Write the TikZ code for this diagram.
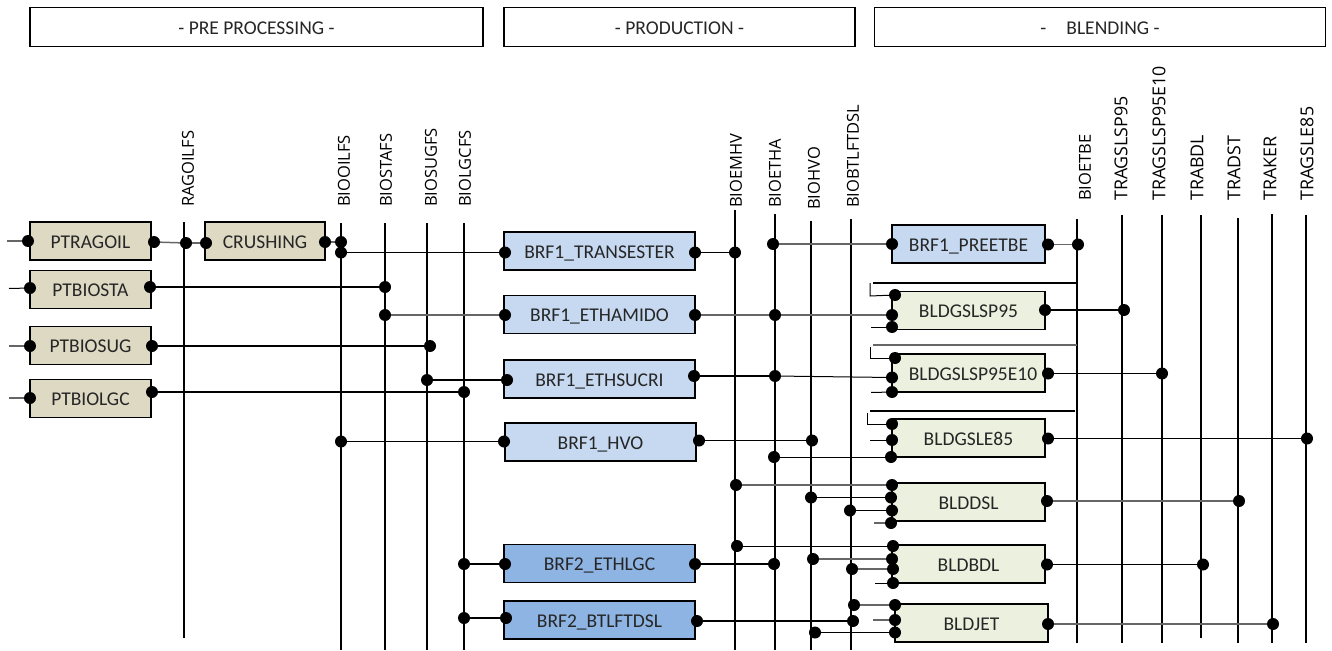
\documentclass[tikz,border=0pt]{standalone}
\usepackage{fontspec}
\setmainfont{Carlito}
\newfontfamily\labelfont{Open Sans}
\definecolor{txt}{HTML}{262626}
\definecolor{beige}{HTML}{DDD9C3}
\definecolor{lblue}{HTML}{C6D9F1}
\definecolor{dblue}{HTML}{8EB4E3}
\definecolor{lgreen}{HTML}{EBF1DE}
\tikzset{
  hdr/.style={draw=black,line width=1.6pt,fill=white,minimum height=39pt,inner sep=0pt,text=txt,text height=14.5pt,text depth=0pt,font=\fontsize{19.5}{22}\selectfont},
  box/.style={draw=black,line width=1.6pt,inner sep=0pt,text=txt,text height=14.5pt,text depth=0pt,font=\fontsize{19.5}{22}\selectfont,minimum height=38pt},
  pre/.style={box,fill=beige,minimum width=121pt},
  prod/.style={box,fill=lblue,minimum width=191pt},
  prodb/.style={box,fill=dblue,minimum width=191pt},
  blend/.style={box,fill=lgreen,minimum width=153pt},
  port/.style={circle,fill=black,inner sep=0pt,minimum size=12pt},
  bus/.style={line width=1.6pt,black},
  conn/.style={line width=1pt,black},
  connk/.style={line width=2pt,black},
  conng/.style={line width=1.5pt,black!60},
  buslabel/.style={rotate=90,anchor=west,inner sep=0pt,text=black}
}
\begin{document}
\begin{tikzpicture}[x=1pt,y=-1pt]
\useasboundingbox (0,0) rectangle (1332,650);
% headers
\node[hdr,minimum width=453pt] (hpre) at (256.5,27) {- PRE PROCESSING -};
\node[hdr,minimum width=351pt] (hprod) at (679.5,27) {- PRODUCTION -};
\node[hdr,minimum width=451pt] (hbl) at (1100,27) {-\hspace{20pt}BLENDING -};
% buses
\foreach \n/\x/\t/\b in {rag/184/222/638,oil/341/223/650,sta/385/223/650,sug/427/223/650,lgc/464/223/650,
  emhv/735/210/650,etha/775/214/650,hvo/811/221/650,btl/851/219/650,
  etbe/1077/219/643,s95/1122/215/643,e10/1162/215/643,bdl/1201/215/638,dst/1238/218/643,ker/1272/214/643,e85/1306/215/643}{
  \coordinate (\n t) at (\x,\t);
  \coordinate (\n b) at (\x,\b);
  \draw[bus] (\n t) -- (\n b);
}
% bus labels
\foreach \n/\x/\b/\f/\s in {lrag/188/207/16.5/RAGOILFS,loil/344/207/16.5/BIOOILFS,lsta/386/207/16.5/BIOSTAFS,lsug/431/207/16.5/BIOSUGFS,llgc/465/207/16.5/BIOLGCFS,
  lemhv/736/208/16.5/BIOEMHV,letha/775/208/16.5/BIOETHA,lhvo/814/210/16.5/BIOHVO,lbtl/853/208/16.5/BIOBTLFTDSL,
  letbe/1085/201/16.5/BIOETBE,ls95/1121/201/17.8/TRAGSLSP95,le10/1159/201/17.8/TRAGSLSP95E10,lbdl/1197/201/17.8/TRABDL,ldst/1234/201/17.8/TRADST,lker/1270/201/17.8/TRAKER,le85/1307/201/17.8/TRAGSLE85}{
  \node[buslabel,font=\labelfont\fontsize{\f}{20}\selectfont] (\n) at (\x,\b) {\s};
}
% preprocessing boxes
\node[pre] (ptragoil) at (90.5,241) {PTRAGOIL};
\node[pre] (ptbiosta) at (90.5,289.5) {PTBIOSTA};
\node[pre] (ptbiosug) at (90.5,345.5) {PTBIOSUG};
\node[pre] (ptbiolgc) at (90.5,398.5) {PTBIOLGC};
\node[pre,minimum width=120pt] (crushing) at (265,241) {CRUSHING};
% production boxes
\node[prod] (transester) at (599.5,251) {BRF1\_TRANSESTER};
\node[prod] (ethamido) at (599.5,314.5) {BRF1\_ETHAMIDO};
\node[prod] (ethsucri) at (599.5,379) {BRF1\_ETHSUCRI};
\node[prod] (hvobox) at (600.5,442) {BRF1\_HVO};
\node[prodb] (ethlgc) at (599.5,563.5) {BRF2\_ETHLGC};
\node[prodb] (btlftdsl) at (599.5,620) {BRF2\_BTLFTDSL};
% blending boxes
\node[blend,fill=lblue] (preetbe) at (968.5,244) {BRF1\_PREETBE};
\node[blend] (gs95) at (968.5,310.5) {BLDGSLSP95};
\node[blend] (gs10) at (968.5,373) {\hspace{9pt}BLDGSLSP95E10};
\node[blend] (gs85) at (968.5,438) {BLDGSLE85};
\node[blend] (bldsl) at (968.5,502) {BLDDSL};
\node[blend] (blbdl) at (968.5,564) {BLDBDL};
\node[blend] (bljet) at (971.5,623) {BLDJET};
% ports
\foreach \n/\x/\y in {
  a1/28/241,a2/154/242,a3/186/243,a4/206/243,a5/325/242,a6/341/242,a7/341/252.5,
  b1/30/288,b2/150/287,b3/385/287,
  c1/30/346,c2/152/346,c3/430/346,
  d1/30/398,d2/152/392,d3/464/392,
  e1/505/252.5,e2/695/252.5,e3/735/252.5,
  f1/385/315,f2/505/315,f3/695/315,f4/775/315,f5/892/315,
  g1/427/380,g2/507/380,g3/694/376,g4/775/376,g5/892/377.5,
  h1/341/441.5,h2/504/441.5,h3/699/440.5,h4/812/440.5,
  i1/464/564,i2/505/564,i3/695/564,i4/774/564,
  j1/464/618,j2/506/618,j3/697/621,j4/853/621,
  k1/773/244,k2/892/244,k3/1048/244.5,k4/1078/244.5,
  l1/895/295,l2/892/327,l3/1045/310,l4/1124/310,
  m1/895/358,m2/892/392,m3/1048/373.5,m4/1162/373.5,
  n1/892/424,n2/892/440,n3/891/457,n4/774/457,n5/1048/438.5,n6/1307/438.5,
  o1/736/485,o2/892/485,o3/811/497.5,o4/891/497.5,o5/850/510.5,o6/892/510.5,o7/891/523,o8/1047/501,o9/1239/501,
  p1/737/546,p2/893/546,p3/813/559,p4/892/559,p5/852/569,p6/893/569,p7/893/583,p8/1047/564.5,p9/1203/564.5,
  q1/854/605,q2/895/605,q3/895/620,q4/815/632.5,q5/895/632.5,q6/1048/624,q7/1273/624}{
  \node[port] (\n) at (\x,\y) {};
}
% free ends
\foreach \n/\x/\y in {s1/7/241,s2/9/288.5,s3/9/346,s4/9/398,s5/871/327,s6/871/392.5,s7/870/440,s8/874/523,s9/875/583,s10/873/620,
  t1/873/283,t2/1077/283,t3/873/345,t4/1077/345,t5/870/411,t6/1075/411,
  u1/870/283,u2/870/296,u3/870/347,u4/870/358,u5/867/413,u6/867/424}{
  \coordinate (\n) at (\x,\y);
}
% connectors
\draw[conng] (s1) -- (a1);
\draw[conn] (s2) -- (b1);
\draw[conng] (s3) -- (c1);
\draw[conng] (s4) -- (d1);
\draw[conng] (a2) -- (a3);
\draw[conng] (a3) -- (a4);
\draw[conng] (a5) -- (a6);
\draw[conn] (a7) -- (e1);
\draw[connk] (b2) -- (b3);
\draw[connk] (c2) -- (c3);
\draw[connk] (d2) -- (d3);
\draw[conn] (e2) -- (e3);
\draw[conng] (f1) -- (f2);
\draw[conng] (f3) -- (f4);
\draw[conng] (f4) -- (f5);
\draw[connk] (g1) -- (g2);
\draw[connk] (g3) -- (g4);
\draw[conn] (g4) -- (g5);
\draw[conn] (h1) -- (h2);
\draw[conn] (h3) -- (h4);
\draw[connk] (i1) -- (i2);
\draw[connk] (i3) -- (i4);
\draw[connk] (j1) -- (j2);
\draw[connk] (j3) -- (j4);
\draw[conng] (k1) -- (k2);
\draw[conng] (k3) -- (k4);
\draw[conn] (s5) -- (l2);
\draw[connk] (l3) -- (l4);
\draw[conn] (s6) -- (m2);
\draw[conn] (m3) -- (m4);
\draw[conn] (s7) -- (n2);
\draw[conn] (n4) -- (n3);
\draw[conn] (n5) -- (n6);
\draw[conng] (o1) -- (o2);
\draw[conn] (o3) -- (o4);
\draw[conn] (o5) -- (o6);
\draw[conng] (s8) -- (o7);
\draw[conng] (o8) -- (o9);
\draw[conn] (p1) -- (p2);
\draw[conng] (p3) -- (p4);
\draw[conng] (p5) -- (p6);
\draw[conn] (s9) -- (p7);
\draw[conn] (p8) -- (p9);
\draw[conng] (q1) -- (q2);
\draw[conng] (s10) -- (q3);
\draw[conn] (q4) -- (q5);
\draw[conng] (q6) -- (q7);
\draw[connk] (t1) -- (t2);
\draw[conng] (t3) -- (t4);
\draw[connk] (t5) -- (t6);
\draw[conn] (u1) -- (u2) -- (l1);
\draw[conn] (u3) -- (u4) -- (m1);
\draw[conn] (u5) -- (u6) -- (n1);
\end{tikzpicture}
\end{document}
